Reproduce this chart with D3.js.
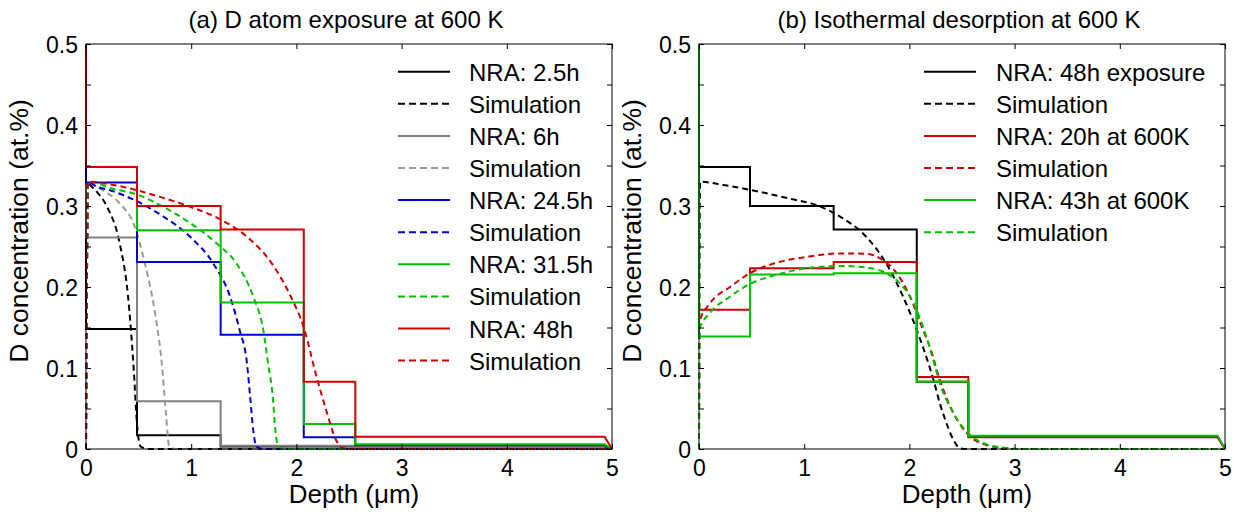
<!DOCTYPE html>
<html>
<head>
<meta charset="utf-8">
<script src="https://cdn.jsdelivr.net/npm/d3@7"></script>
<style>
  body { margin: 0; background: #fff; }
  text { font-family: "Liberation Sans", Arial, sans-serif; fill: #000; }
</style>
</head>
<body>
<div id="chart"></div>
<script>
// NRA step edges (depth, um)
var stepEdges = [0, 0.485, 1.28, 2.07, 2.56, 4.93];
var endDepth = 5;
var surfaceValue = 0.5;

// (a) exposure, NRA step levels
var nraA_2_5 = [0.148, 0.017, 0.003, 0.003, 0.003];
var nraA_6 = [0.261, 0.059, 0.004, 0.004, 0.004];
var nraA_24_5 = [0.329, 0.231, 0.141, 0.0144, 0.005];
var nraA_31_5 = [0.348, 0.27, 0.181, 0.031, 0.006];
var nraA_48 = [0.348, 0.300, 0.271, 0.083, 0.015];

// (a) simulations [depth, conc]
var simA_2_5 = [[0,0],[0.02,0.33],[0.04,0.326],[0.1,0.318],[0.2,0.299],[0.32,0.254],[0.40,0.188],[0.45,0.106],[0.49,0.023],[0.52,0.003],[0.6,0],[5,0]];
var simA_6 = [[0,0],[0.02,0.33],[0.1,0.324],[0.32,0.303],[0.45,0.279],[0.56,0.229],[0.656,0.168],[0.72,0.106],[0.76,0.044],[0.79,0.004],[0.85,0],[5,0]];
var simA_24_5 = [[0,0],[0.02,0.33],[0.07,0.326],[0.26,0.318],[0.466,0.307],[0.735,0.287],[0.99,0.262],[1.21,0.229],[1.37,0.188],[1.46,0.147],[1.53,0.106],[1.56,0.065],[1.59,0.023],[1.62,0.003],[1.68,0],[5,0]];
var simA_31_5 = [[0,0],[0.02,0.33],[0.26,0.321],[0.466,0.315],[0.735,0.299],[0.99,0.279],[1.24,0.254],[1.43,0.229],[1.59,0.188],[1.685,0.147],[1.73,0.106],[1.775,0.065],[1.80,0.023],[1.83,0.003],[1.9,0],[5,0]];
var simA_48 = [[0,0],[0.02,0.33],[0.26,0.326],[0.466,0.320],[0.735,0.310],[0.99,0.299],[1.27,0.284],[1.53,0.262],[1.75,0.232],[1.94,0.19],[2.07,0.15],[2.19,0.09],[2.29,0.045],[2.37,0.013],[2.43,0.002],[2.5,0],[5,0]];

// (b) desorption, NRA step levels
var nraB_48 = [0.348, 0.300, 0.271, 0.083, 0.015];
var nraB_20 = [0.172, 0.223, 0.231, 0.089, 0.0145];
var nraB_43 = [0.139, 0.2155, 0.217, 0.083, 0.0165];

// (b) simulations
var simB_48 = [[0,0],[0.01,0.33],[0.23,0.326],[0.485,0.320],[0.865,0.309],[1.12,0.301],[1.34,0.287],[1.59,0.262],[1.78,0.229],[1.94,0.188],[2.07,0.147],[2.18,0.106],[2.23,0.085],[2.29,0.056],[2.32,0.044],[2.42,0.011],[2.48,0.001],[2.55,0],[5,0]];
var simB_20 = [[0,0],[0.005,0.157],[0.105,0.18],[0.295,0.20],[0.485,0.217],[0.71,0.229],[1.02,0.237],[1.34,0.2415],[1.59,0.241],[1.75,0.233],[1.88,0.217],[2.006,0.188],[2.13,0.147],[2.2,0.124],[2.29,0.085],[2.42,0.044],[2.58,0.015],[2.73,0.005],[2.92,0.001],[3.0,0],[5,0]];
var simB_43 = [[0,0],[0.005,0.148],[0.105,0.168],[0.295,0.188],[0.485,0.204],[0.71,0.214],[1.02,0.223],[1.34,0.226],[1.59,0.224],[1.78,0.217],[1.91,0.2045],[2.04,0.18],[2.16,0.139],[2.2,0.122],[2.29,0.081],[2.42,0.044],[2.58,0.017],[2.73,0.006],[2.95,0.001],[3.05,0],[5,0]];

var labelsA = ["NRA: 2.5h", "Simulation", "NRA: 6h", "Simulation", "NRA: 24.5h", "Simulation", "NRA: 31.5h", "Simulation", "NRA: 48h", "Simulation"];
var labelsB = ["NRA: 48h exposure", "Simulation", "NRA: 20h at 600K", "Simulation", "NRA: 43h at 600K", "Simulation"];

var xTicks = [0, 1, 2, 3, 4, 5];
var yTicks = [0, 0.05, 0.1, 0.15, 0.2, 0.25, 0.3, 0.35, 0.4, 0.45, 0.5];

var black = "#000", gray = "#808080", grayDash = "#9a9a9a", blue = "#0000d0", green = "#00c000", red = "#d00000";

var width = 1236, height = 521;
var plotTop = 44, plotBottom = 449;

var svg = d3.select("#chart").append("svg")
    .attr("width", width)
    .attr("height", height);

// build NRA step path points from levels
function stepPoints(levels) {
  var pts = [[0, surfaceValue]];
  for (var i = 0; i < levels.length; i++) {
    var a = stepEdges[i];
    var b = i + 1 < stepEdges.length ? stepEdges[i + 1] : stepEdges[stepEdges.length - 1];
    pts.push([a, levels[i]]);
    pts.push([b, levels[i]]);
  }
  pts.push([endDepth, 0]);
  return pts;
}

var panels = [
  {
    id: "a", x0: 86, x1: 612,
    title: "(a) D atom exposure at 600 K",
    legendX: 398, legendTextX: 469,
    series: [
      {pts: stepPoints(nraA_2_5), color: black, dash: false},
      {pts: simA_2_5, color: black, dash: true},
      {pts: stepPoints(nraA_6), color: gray, dash: false},
      {pts: simA_6, color: grayDash, dash: true},
      {pts: stepPoints(nraA_24_5), color: blue, dash: false},
      {pts: simA_24_5, color: blue, dash: true},
      {pts: stepPoints(nraA_31_5), color: green, dash: false},
      {pts: simA_31_5, color: green, dash: true},
      {pts: stepPoints(nraA_48), color: red, dash: false},
      {pts: simA_48, color: red, dash: true}
    ],
    labels: labelsA
  },
  {
    id: "b", x0: 699, x1: 1225,
    title: "(b) Isothermal desorption at 600 K",
    legendX: 924, legendTextX: 996,
    series: [
      {pts: stepPoints(nraB_48), color: black, dash: false},
      {pts: simB_48, color: black, dash: true},
      {pts: stepPoints(nraB_20), color: red, dash: false},
      {pts: simB_20, color: red, dash: true},
      {pts: stepPoints(nraB_43), color: green, dash: false},
      {pts: simB_43, color: green, dash: true}
    ],
    labels: labelsB
  }
];

panels.forEach(function(p) {
  var x = d3.scaleLinear().domain([0, 5]).range([p.x0, p.x1]);
  var y = d3.scaleLinear().domain([0, 0.5]).range([plotBottom, plotTop]);
  var g = svg.append("g");

  // clip a little wider so the lines on the edges keep their width
  g.append("clipPath").attr("id", "clip-" + p.id)
    .append("rect")
    .attr("x", p.x0 - 1.5).attr("y", plotTop)
    .attr("width", p.x1 - p.x0 + 3).attr("height", plotBottom - plotTop + 1.5);

  var stepLine = d3.line().x(function(d) { return x(d[0]); }).y(function(d) { return y(d[1]); });
  var simLine = d3.line().curve(d3.curveMonotoneX)
      .x(function(d) { return x(d[0]); }).y(function(d) { return y(d[1]); });

  var plot = g.append("g").attr("clip-path", "url(#clip-" + p.id + ")");
  p.series.forEach(function(s) {
    plot.append("path")
      .attr("d", s.dash ? simLine(s.pts) : stepLine(s.pts))
      .attr("fill", "none")
      .attr("stroke", s.color)
      .attr("stroke-width", 2)
      .attr("stroke-dasharray", s.dash ? "6,4" : null);
  });

  // axes with inward ticks
  var fmtY = function(d) { return Math.round(d * 100) % 10 == 0 ? String(+d.toFixed(1)) : ""; };
  var yl = g.append("g").attr("transform", "translate(" + p.x0 + ",0)")
      .call(d3.axisLeft(y).tickValues(yTicks).tickSize(-5).tickPadding(8).tickFormat(fmtY));
  var yr = g.append("g").attr("transform", "translate(" + p.x1 + ",0)")
      .call(d3.axisRight(y).tickValues(yTicks).tickSize(-5).tickFormat(""));
  var xb = g.append("g").attr("transform", "translate(0," + plotBottom + ")")
      .call(d3.axisBottom(x).tickValues(xTicks).tickSize(-5).tickPadding(11).tickFormat(d3.format("d")));
  var xt = g.append("g").attr("transform", "translate(0," + plotTop + ")")
      .call(d3.axisTop(x).tickValues(xTicks).tickSize(-5).tickFormat(""));
  [yl, yr, xb, xt].forEach(function(a) {
    a.select(".domain").remove();
    a.selectAll("text").attr("font-size", 23).attr("font-family", "Liberation Sans, Arial, sans-serif").attr("fill", "#000");
    a.selectAll("line").attr("stroke", "#000");
  });
  yl.selectAll("text").attr("dy", "0.36em");

  g.append("rect")
    .attr("x", p.x0).attr("y", plotTop)
    .attr("width", p.x1 - p.x0).attr("height", plotBottom - plotTop)
    .attr("fill", "none").attr("stroke", "#000").attr("stroke-width", 1);

  // titles and labels
  g.append("text")
    .attr("x", (p.x0 + p.x1) / 2 - 3).attr("y", 28)
    .attr("text-anchor", "middle").attr("font-size", 24)
    .text(p.title);

  g.append("text")
    .attr("x", (p.x0 + p.x1) / 2 + 5).attr("y", 503)
    .attr("text-anchor", "middle").attr("font-size", 26)
    .text("Depth (\u03bcm)");

  g.append("text")
    .attr("transform", "translate(" + (p.x0 - 58) + ",231) rotate(-90)")
    .attr("text-anchor", "middle").attr("font-size", 26.5)
    .text("D concentration (at.%)");

  // legend
  var leg = g.append("g");
  p.labels.forEach(function(lab, i) {
    var s = p.series[i];
    var ly = 71.7 + i * 32.1;
    leg.append("line")
      .attr("x1", p.legendX).attr("x2", p.legendX + 52)
      .attr("y1", ly).attr("y2", ly)
      .attr("stroke", s.color).attr("stroke-width", 2)
      .attr("stroke-dasharray", s.dash ? "7,4" : null);
    leg.append("text")
      .attr("x", p.legendTextX).attr("y", ly + 9)
      .attr("font-size", 24)
      .text(lab);
  });
});
</script>
</body>
</html>
